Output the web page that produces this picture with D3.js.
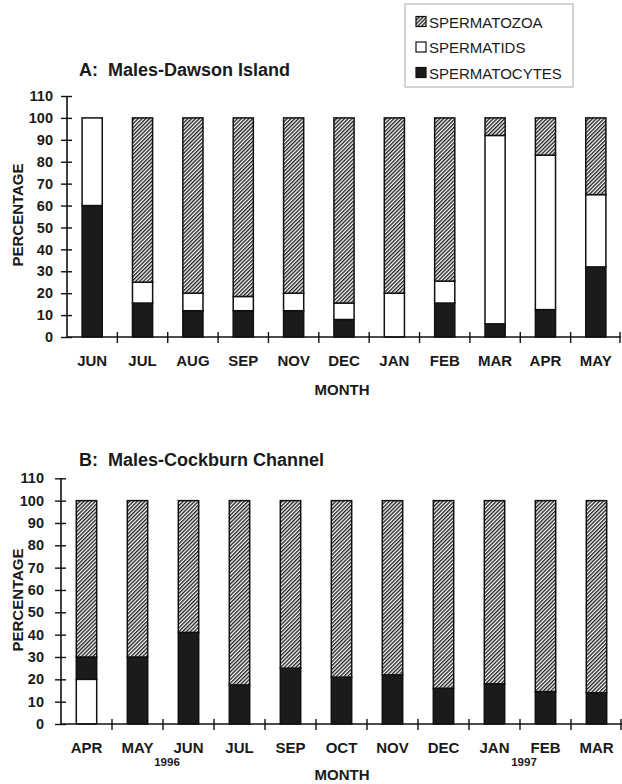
<!DOCTYPE html>
<html>
<head>
<meta charset="utf-8">
<script src="https://cdn.jsdelivr.net/npm/d3@7"></script>
<style>
  body { margin: 0; background: #fff; }
  svg { display: block; font-family: "Liberation Sans", Arial, Helvetica, sans-serif; }
</style>
</head>
<body>
<div id="chart"></div>
<script>
// Panel A - Dawson Island
var monthsA = ["JUN", "JUL", "AUG", "SEP", "NOV", "DEC", "JAN", "FEB", "MAR", "APR", "MAY"];
var cytesA = [60, 15.5, 12, 12, 12, 8, 0, 15.5, 6, 12.5, 32];
var tidsA = [40, 9.5, 8, 6.5, 8, 7.5, 20, 10, 86, 70.5, 33];
var zoaA = [0, 75, 80, 81.5, 80, 84.5, 80, 74.5, 8, 17, 35];

// Panel B - Cockburn Channel
var monthsB = ["APR", "MAY", "JUN", "JUL", "SEP", "OCT", "NOV", "DEC", "JAN", "FEB", "MAR"];
var tidsB = [20, 0, 0, 0, 0, 0, 0, 0, 0, 0, 0];
var cytesB = [10, 30, 41, 17.5, 25, 21, 22, 16, 18, 14.5, 14];
var zoaB = [70, 70, 59, 82.5, 75, 79, 78, 84, 82, 85.5, 86];

var yTicks = [0, 10, 20, 30, 40, 50, 60, 70, 80, 90, 100, 110];
var legendLabels = ["SPERMATOZOA", "SPERMATIDS", "SPERMATOCYTES"];
var yearsB = [{label: "1996", after: "MAY"}, {label: "1997", after: "JAN"}];

var fills = {
    zoa: "url(#hatch)",
    tids: "#ffffff",
    cytes: "#1b1b1b"
};

var svg = d3.select("#chart").append("svg")
    .attr("width", 622)
    .attr("height", 784);

// diagonal hatch pattern for spermatozoa
var pat = svg.append("defs").append("pattern")
    .attr("id", "hatch")
    .attr("patternUnits", "userSpaceOnUse")
    .attr("width", 2.7)
    .attr("height", 2.7)
    .attr("patternTransform", "rotate(45)");
pat.append("rect").attr("width", 2.7).attr("height", 2.7).attr("fill", "#fff");
pat.append("line")
    .attr("x1", 0.7).attr("y1", 0).attr("x2", 0.7).attr("y2", 2.7)
    .attr("stroke", "#1a1a1a").attr("stroke-width", 1.35);

function drawPanel(p) {
    var x = d3.scaleBand().domain(p.months).range([p.left, p.right]).paddingInner(0.6).paddingOuter(0.3);
    var y = d3.scaleLinear().domain([0, 110]).range([p.bottom, p.top]);

    var rows = p.months.map(function (m, i) {
        return {month: m, cytes: p.cytes[i], tids: p.tids[i], zoa: p.zoa[i]};
    });
    var series = d3.stack().keys(p.order)(rows);

    var g = svg.append("g");

    series.forEach(function (s) {
        g.selectAll(null)
            .data(s.filter(function (d) { return d[1] - d[0] > 0; }))
            .join("rect")
            .attr("x", function (d) { return x(d.data.month); })
            .attr("width", x.bandwidth())
            .attr("y", function (d) { return y(d[1]); })
            .attr("height", function (d) { return y(d[0]) - y(d[1]); })
            .attr("fill", fills[s.key])
            .attr("stroke", "#111")
            .attr("stroke-width", 1.5);
    });

    // y axis
    var yAxis = g.append("g")
        .attr("transform", "translate(" + p.left + ",0)")
        .call(d3.axisLeft(y).tickValues(yTicks).tickSize(6).tickPadding(p.tickPad));
    yAxis.select(".domain").attr("d", "M0," + y(110) + "V" + y(0)).attr("stroke", "#111").attr("stroke-width", 1.6);
    yAxis.selectAll(".tick line").attr("x1", 5).attr("x2", -6).attr("stroke", "#111").attr("stroke-width", 1.4);
    yAxis.selectAll(".tick text")
        .attr("font-size", 14.5).attr("font-weight", "bold").attr("fill", "#1a1a1a")
        .attr("font-family", "'Liberation Sans', Arial, sans-serif");

    // x axis with ticks between bars
    var step = x.step();
    var bounds = d3.range(1, p.months.length + 1).map(function (i) { return p.left + i * (p.right - p.left) / p.months.length; });
    g.append("line")
        .attr("x1", p.left).attr("x2", p.right)
        .attr("y1", y(0)).attr("y2", y(0))
        .attr("stroke", "#111").attr("stroke-width", 1.7);
    g.selectAll(null).data(bounds).join("line")
        .attr("x1", function (d) { return Math.min(d, p.right - 1); })
        .attr("x2", function (d) { return Math.min(d, p.right - 1); })
        .attr("y1", y(0) - 5).attr("y2", y(0) + 6)
        .attr("stroke", "#111").attr("stroke-width", 1.4);

    g.selectAll(null).data(p.months).join("text")
        .attr("x", function (d) { return x(d) + x.bandwidth() / 2; })
        .attr("y", y(0) + 29)
        .attr("text-anchor", "middle")
        .attr("font-size", 15).attr("font-weight", "bold").attr("fill", "#1a1a1a")
        .text(function (d) { return d; });

    g.append("text")
        .attr("x", 342).attr("y", y(0) + p.monthTitleOff)
        .attr("text-anchor", "middle")
        .attr("font-size", 15).attr("font-weight", "bold").attr("fill", "#1a1a1a")
        .text("MONTH");

    g.append("text")
        .attr("transform", "translate(" + 23 + "," + p.yTitleMid + ") rotate(-90)")
        .attr("text-anchor", "middle")
        .attr("font-size", 15).attr("font-weight", "bold").attr("fill", "#1a1a1a")
        .text("PERCENTAGE");

    g.append("text")
        .attr("x", 79).attr("y", p.titleY)
        .attr("font-size", 18).attr("font-weight", "bold").attr("fill", "#1a1a1a")
        .attr("xml:space", "preserve")
        .style("white-space", "pre")
        .text(p.title);

    if (p.years) {
        g.selectAll(null).data(p.years).join("text")
            .attr("x", function (d) { return x(d.after) + x.bandwidth() / 2 + step / 2 + 4; })
            .attr("y", y(0) + 42)
            .attr("text-anchor", "middle")
            .attr("font-size", 11.5).attr("font-weight", "bold").attr("fill", "#1a1a1a")
            .text(function (d) { return d.label; });
    }
}

drawPanel({
    months: monthsA, cytes: cytesA, tids: tidsA, zoa: zoaA,
    order: ["cytes", "tids", "zoa"],
    left: 67, right: 621, top: 96, bottom: 337,
    tickPad: 8, yTitleMid: 215, titleY: 76, monthTitleOff: 58,
    title: "A:  Males-Dawson Island"
});

drawPanel({
    months: monthsB, cytes: cytesB, tids: tidsB, zoa: zoaB,
    order: ["tids", "cytes", "zoa"],
    left: 61, right: 622, top: 478.3, bottom: 724,
    tickPad: 11, yTitleMid: 600, titleY: 466, monthTitleOff: 56,
    title: "B:  Males-Cockburn Channel",
    years: yearsB
});

// legend
var leg = svg.append("g");
leg.append("rect")
    .attr("x", 405).attr("y", 4).attr("width", 168).attr("height", 83)
    .attr("fill", "none").attr("stroke", "#aaa").attr("stroke-width", 1);
var legKeys = ["zoa", "tids", "cytes"];
legendLabels.forEach(function (t, i) {
    var cy = 22 + i * 25.5;
    leg.append("rect")
        .attr("x", 416).attr("y", cy - 5.5).attr("width", 10).attr("height", 10)
        .attr("fill", fills[legKeys[i]])
        .attr("stroke", "#111").attr("stroke-width", 1.2);
    leg.append("text")
        .attr("x", 429).attr("y", cy + 5.5)
        .attr("font-size", 15).attr("fill", "#1a1a1a")
        .text(t);
});
</script>
</body>
</html>
